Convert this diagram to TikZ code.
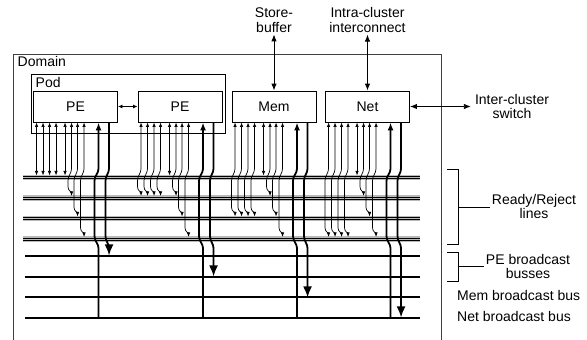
\documentclass[tikz,border=0pt]{standalone}
\usepackage{fontspec}
\setmainfont{Liberation Sans}
\usetikzlibrary{arrows.meta}

\begin{document}
\begin{tikzpicture}[x=1pt, y=1pt, font=\fontsize{14}{14.5}\selectfont,
  frame/.style={draw, line width=0.9pt, anchor=north west, inner sep=0pt},
  unit/.style={draw, line width=0.9pt, minimum width=84pt, minimum height=31pt, inner sep=0pt},
  lbl/.style={align=center, inner sep=2pt},
  tag/.style={anchor=west, inner sep=0pt},
  sig/.style={line width=0.7pt, {Latex[length=4.5pt,width=3.5pt]}-{Latex[length=4.5pt,width=3.5pt]}},
  ext/.style={line width=0.9pt, {Latex[length=7pt,width=5.5pt]}-{Latex[length=7pt,width=5.5pt]}},
  pair/.style={line width=0.9pt, {Latex[length=4.5pt,width=4pt]}-{Latex[length=4.5pt,width=4pt]}},
  upl/.style={line width=1.8pt, {Latex[length=8pt,width=6pt]}-},
  dnl/.style={line width=1.8pt, -{Latex[length=11pt,width=9pt]}},
  band/.style={draw=gray!55, line width=5.5pt},
  bus/.style={line width=1.8pt},
  brk/.style={line width=0.8pt},
  hop/.style={insert path={-- ++(0,-46) to[out=-90,in=90] ++(-3.5,-12) -- ++(0,-#1) to[out=-90,in=90] ++(3.5,-9)}}]
\useasboundingbox (0,0) rectangle (587,-340);
% domain and pod
\node[frame, draw=black!75, minimum width=428pt, minimum height=310pt] (domain) at (13,-53.5) {};
\node[tag] (domlbl) at (17.5,-61) {Domain};
\node[frame, minimum width=194pt, minimum height=59pt] (pod) at (31,-74) {};
\node[tag] (podlbl) at (35.5,-82) {Pod};
% units
\node[unit] (pe1) at (75.5,-106.5) {PE};
\node[unit] (pe2) at (180,-106.5) {PE};
\node[unit] (mem) at (274,-106.5) {Mem};
\node[unit] (net) at (367.5,-106.5) {Net};
% outside labels
\node[lbl] (sb) at (274,-20) {Store-\\buffer};
\node[lbl] (ic) at (367.5,-20) {Intra-cluster\\interconnect};
\node[lbl, inner sep=4pt] (xs) at (512,-106.5) {Inter-cluster\\switch};
\node[lbl] (rr) at (534,-206.5) {Ready/Reject\\lines};
\node[lbl] (pb) at (528,-266.5) {PE broadcast\\busses};
\node[tag] (mbl) at (457,-295) {Mem broadcast bus};
\node[tag] (nbl) at (457,-316) {Net broadcast bus};
\draw[pair] (pe1) -- (pe2);
\draw[ext] (sb) -- (mem);
\draw[ext] (ic) -- (net);
\draw[ext] (net) -- (xs);
% brackets
\coordinate (rrmid) at (458,-207);
\coordinate (pbmid) at (458,-266);
\draw[brk] (447,-169) -| (458,-244) -- (447,-244);
\draw[brk] (rrmid) -- (rrmid -| rr.west);
\draw[brk] (447,-252) -| (458,-281) -- (447,-281);
\draw[brk] (pbmid) -- (pbmid -| pb.west);
% ready/reject lines and broadcast busses
\foreach \y in {177.5,198,218.5,239} {
  \draw[band] (23,-\y) -- (420,-\y);
  \draw[line width=0.6pt] (23,{-\y+1.1}) -- (420,{-\y+1.1});
  \draw[line width=0.6pt] (23,{-\y-1.1}) -- (420,{-\y-1.1});
}
\foreach \y in {256,276.7,297.3,318}
  \draw[bus] (25,-\y) -- (420,-\y);
% ready/reject signals
\foreach \o in {3.5,10,16.5,23}
  \draw[sig] ([xshift=\o pt]pe1.south west) -- ++(0,-53);
\foreach \b/\l in {pe2/6.5, mem/27, net/47.5}
  \foreach \o in {3.5,10,16.5,23}
    \draw[sig] ([xshift=\o pt]\b.south west) [hop=\l];
\foreach \b in {pe1,pe2,mem,net} {
  \draw[sig] ([xshift=32pt]\b.south west) -- ++(0,-53);
  \foreach \o/\l in {38.5/6.5, 44.5/27, 51/47.5}
    \draw[sig] ([xshift=\o pt]\b.south west) [hop=\l];
}
% broadcast connections
\foreach \b/\d in {pe1/7, pe2/28, mem/49, net/69} {
  \draw[upl] ([xshift=65.5pt]\b.south west) -- ++(0,-46) to[out=-90,in=90] ++(-4,-12)
    -- ++(0,-56) to[out=-90,in=90] ++(4,-12) -- ++(0,-70);
  \draw[dnl] ([xshift=76pt]\b.south west) -- ++(0,-46) to[out=-90,in=90] ++(-3.5,-12)
    -- ++(0,-56) to[out=-90,in=90] ++(3.5,-12) -- ++(0,-\d);
}
\end{tikzpicture}
\end{document}
